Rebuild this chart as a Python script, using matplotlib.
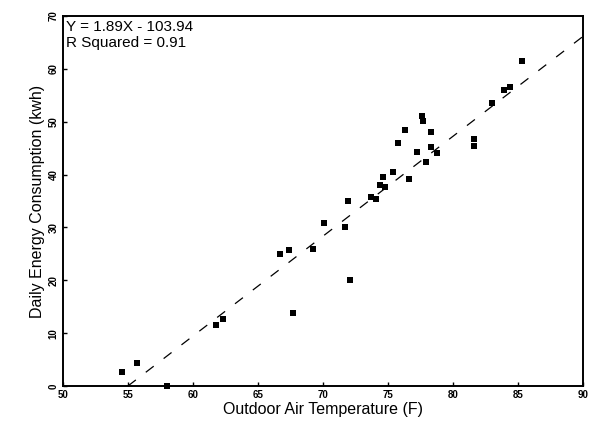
import matplotlib
matplotlib.use("Agg")
import matplotlib.pyplot as plt
import numpy as np

plt.rcParams['font.family'] = ['Liberation Sans', 'DejaVu Sans']

# Data
temperature_f = [54.5, 55.7, 58.0, 61.8, 62.3, 66.7, 67.4, 67.7, 69.2, 70.1,
                 71.7, 71.9, 72.1, 73.7, 74.1, 74.4, 74.8, 74.6, 75.4, 76.6,
                 75.8, 76.3, 77.2, 77.6, 77.7, 78.3, 78.3, 77.9, 78.8, 81.6,
                 81.6, 83.0, 83.9, 84.4, 85.3]
energy_kwh = [2.6, 4.3, 0.0, 11.5, 12.6, 24.9, 25.7, 13.8, 25.9, 30.9,
              30.1, 35.0, 20.0, 35.8, 35.3, 38.0, 37.7, 39.5, 40.4, 39.2,
              46.0, 48.4, 44.3, 51.1, 50.2, 48.1, 45.2, 42.3, 44.0, 46.7,
              45.4, 53.6, 56.0, 56.6, 61.5]
slope = 1.89
intercept = -103.94
r_squared = 0.91
x_ticks = [50, 55, 60, 65, 70, 75, 80, 85, 90]
y_ticks = [0, 10, 20, 30, 40, 50, 60, 70]

fig = plt.figure(figsize=(5.92, 4.26), dpi=100)
ax = fig.add_axes([0.1064, 0.0939, 0.8786, 0.8685])

ax.scatter(temperature_f, energy_kwh, marker='s', s=13, color='black',
           linewidths=0, zorder=3, clip_on=False)

x0 = -intercept / slope
xl = np.linspace(x0, 90, 50)
ax.plot(xl, slope * xl + intercept, color='black', linewidth=0.9,
        dashes=(8, 10), zorder=2)

ax.set_xlim(50, 90)
ax.set_ylim(0, 70)
ax.set_xticks(x_ticks)
ax.set_yticks(y_ticks)
ax.set_xticklabels([str(t) for t in x_ticks], fontsize=7, fontweight='bold')
ax.set_yticklabels([str(t) for t in y_ticks], fontsize=7, fontweight='bold',
                   rotation=90, va='center')
ax.tick_params(direction='in', length=3, width=1, pad=3)

for s in ax.spines.values():
    s.set_linewidth(1.4)

ax.set_xlabel('Outdoor Air Temperature (F)', fontsize=11.5, labelpad=1)
ax.set_ylabel('Daily Energy Consumption (kwh)', fontsize=11.5, labelpad=3)

ax.text(0.006, 0.99, 'Y = %.2fX - %.2f\nR Squared = %.2f' % (slope, -intercept, r_squared),
        transform=ax.transAxes, fontsize=11, va='top', ha='left',
        linespacing=1.2)

fig.savefig('out.png', dpi=100)
